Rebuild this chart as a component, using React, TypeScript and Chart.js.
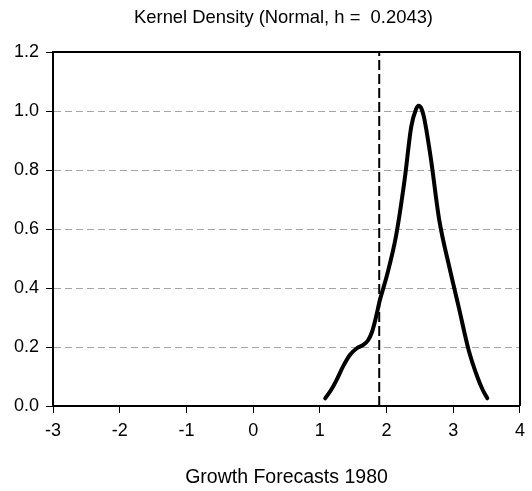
import React, { useEffect, useRef } from "react";
import { Chart, registerables } from "chart.js";

Chart.register(...registerables);

const titleText = "Kernel Density (Normal, h =  0.2043)";
const xAxisTitle = "Growth Forecasts 1980";

const densityX = [1.08, 1.17, 1.25, 1.35, 1.45, 1.55, 1.65, 1.72, 1.78, 1.84, 1.9, 2.0, 2.14, 2.27, 2.37, 2.44, 2.48, 2.52, 2.56, 2.66, 2.79, 2.94, 3.08, 3.23, 3.36, 3.44, 3.51];
const densityY = [0.026, 0.055, 0.088, 0.135, 0.173, 0.195, 0.207, 0.222, 0.25, 0.3, 0.359, 0.438, 0.574, 0.766, 0.947, 1.005, 1.018, 1.01, 0.98, 0.845, 0.63, 0.472, 0.337, 0.19, 0.099, 0.055, 0.026];

const meanLineX = [1.89, 1.89];
const meanLineY = [0, 1.2];

const xMin = -3;
const xMax = 4;
const yMin = 0;
const yMax = 1.2;

export default function App() {
  const canvasRef = useRef<HTMLCanvasElement | null>(null);

  useEffect(() => {
    if (!canvasRef.current) return;
    const font = "'Liberation Sans', Arial, sans-serif";

    const framePlugin = {
      id: "frame",
      afterDraw(chart: any) {
        const { ctx, chartArea } = chart;
        ctx.save();
        ctx.strokeStyle = "#000";
        ctx.lineWidth = 2;
        ctx.beginPath();
        ctx.moveTo(chartArea.left, chartArea.top);
        ctx.lineTo(chartArea.right, chartArea.top);
        ctx.lineTo(chartArea.right, chartArea.bottom);
        ctx.stroke();
        // chart title
        ctx.fillStyle = "#000";
        ctx.font = "18.4px " + font;
        ctx.textAlign = "center";
        ctx.textBaseline = "alphabetic";
        ctx.fillText(titleText, 283.5, 23);
        ctx.restore();
      },
    };

    const chart = new Chart(canvasRef.current, {
      type: "line",
      data: {
        datasets: [
          {
            data: densityX.map((x, i) => ({ x, y: densityY[i] })),
            borderColor: "#000",
            borderWidth: 4,
            pointRadius: 0,
            cubicInterpolationMode: "monotone",
            borderJoinStyle: "round",
            borderCapStyle: "round",
            fill: false,
          },
          {
            data: meanLineX.map((x, i) => ({ x, y: meanLineY[i] })),
            borderColor: "#000",
            borderWidth: 2,
            borderDash: [10, 4],
            pointRadius: 0,
            fill: false,
          },
        ],
      },
      options: {
        responsive: false,
        animation: false,
        layout: { padding: { top: 52, left: 0, right: 7, bottom: 0 } },
        plugins: {
          legend: { display: false },
          tooltip: { enabled: false },
          title: { display: false },
        },
        scales: {
          x: {
            type: "linear",
            min: xMin,
            max: xMax,
            afterFit: (scale: any) => {
              scale.height = 85;
            },
            ticks: {
              stepSize: 1,
              color: "#000",
              padding: 7,
              maxRotation: 0,
              font: { family: font, size: 18 },
            },
            grid: {
              drawOnChartArea: false,
              drawTicks: true,
              tickLength: 7,
              tickColor: "#000",
              tickWidth: 1,
            },
            border: { display: true, color: "#000", width: 2 },
            title: {
              display: true,
              text: xAxisTitle,
              color: "#000",
              font: { family: font, size: 19.5, lineHeight: 1 },
              padding: { top: 0, bottom: 4 },
            },
          },
          y: {
            type: "linear",
            min: yMin,
            max: yMax,
            afterFit: (scale: any) => {
              scale.width = 53;
            },
            ticks: {
              stepSize: 0.2,
              color: "#000",
              padding: 7,
              font: { family: font, size: 18 },
              callback: (v: any) => Number(v).toFixed(1),
            },
            grid: {
              color: (ctx: any) => {
                const v = ctx.tick ? ctx.tick.value : 0;
                if (Math.abs(v - yMin) < 1e-9 || Math.abs(v - yMax) < 1e-9) return "rgba(0,0,0,0)";
                return "#a6a6a6";
              },
              lineWidth: 1,
              drawTicks: true,
              tickLength: 7,
              tickColor: "#000",
              tickWidth: 1,
            },
            border: { display: true, color: "#000", width: 2, dash: [7, 4] },
          },
        },
      },
      plugins: [framePlugin],
    } as any);

    return () => chart.destroy();
  }, []);

  return (
    <div style={{ position: "fixed", left: 0, top: 0, width: 532, height: 491, background: "#fff" }}>
      <canvas ref={canvasRef} width={532} height={491} style={{ display: "block" }} />
    </div>
  );
}
